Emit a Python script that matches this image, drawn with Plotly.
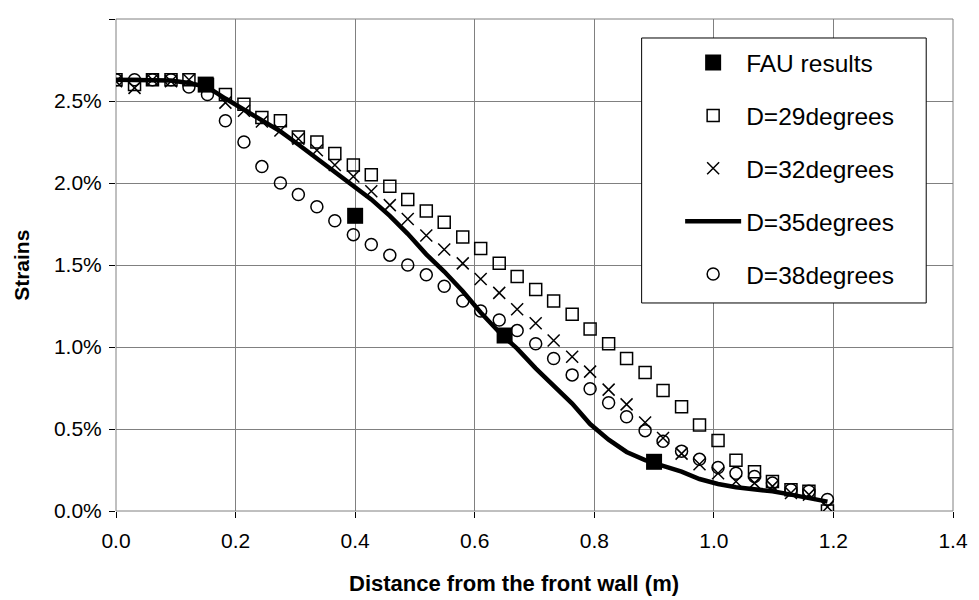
import plotly.graph_objects as go

# ---- data (strain in %) ----
x_sim = [0.000, 0.031, 0.061, 0.092, 0.122, 0.153, 0.183, 0.214, 0.244, 0.275,
         0.305, 0.336, 0.366, 0.397, 0.427, 0.458, 0.488, 0.519, 0.549, 0.580,
         0.610, 0.641, 0.671, 0.702, 0.732, 0.763, 0.793, 0.824, 0.854, 0.885,
         0.915, 0.946, 0.976, 1.007, 1.037, 1.068, 1.098, 1.129, 1.159, 1.190]

d29 = [2.63, 2.60, 2.63, 2.63, 2.63, 2.60, 2.54, 2.48, 2.40, 2.38,
       2.28, 2.25, 2.18, 2.11, 2.05, 1.98, 1.90, 1.83, 1.76, 1.67,
       1.60, 1.51, 1.43, 1.35, 1.28, 1.20, 1.11, 1.02, 0.93, 0.845,
       0.735, 0.635, 0.525, 0.43, 0.31, 0.24, 0.18, 0.13, 0.12, 0.0]

d32 = [2.62, 2.58, 2.63, 2.62, 2.63, 2.60, 2.49, 2.44, 2.375, 2.32,
       2.27, 2.20, 2.11, 2.04, 1.95, 1.865, 1.78, 1.68, 1.595, 1.51,
       1.415, 1.33, 1.23, 1.145, 1.04, 0.94, 0.85, 0.74, 0.65, 0.54,
       0.445, 0.35, 0.285, 0.23, 0.18, 0.17, 0.15, 0.11, 0.10, 0.025]

d35 = [2.63, 2.63, 2.63, 2.625, 2.61, 2.585, 2.515, 2.45, 2.38, 2.315,
       2.235, 2.15, 2.07, 1.99, 1.90, 1.80, 1.69, 1.565, 1.46, 1.34,
       1.21, 1.09, 0.99, 0.87, 0.76, 0.655, 0.53, 0.435, 0.36, 0.31,
       0.275, 0.24, 0.195, 0.165, 0.145, 0.135, 0.12, 0.10, 0.08, 0.057]

d38 = [2.63, 2.63, 2.63, 2.63, 2.585, 2.54, 2.38, 2.25, 2.10, 2.00,
       1.93, 1.855, 1.77, 1.685, 1.625, 1.56, 1.50, 1.44, 1.37, 1.28,
       1.22, 1.165, 1.10, 1.02, 0.93, 0.83, 0.745, 0.66, 0.575, 0.49,
       0.425, 0.365, 0.315, 0.265, 0.23, 0.21, 0.17, 0.13, 0.12, 0.07]

x_fau = [0.15, 0.40, 0.65, 0.90]
y_fau = [2.60, 1.80, 1.07, 0.30]

x_ticks = [0.0, 0.2, 0.4, 0.6, 0.8, 1.0, 1.2, 1.4]
y_ticks = [0.0, 0.5, 1.0, 1.5, 2.0, 2.5, 3.0]
y_ticktext = ["0.0%", "0.5%", "1.0%", "1.5%", "2.0%", "2.5%", "3.0%"]

FONT = "Liberation Sans, Arial, sans-serif"

fig = go.Figure()
fig.add_trace(go.Scatter(x=x_fau, y=y_fau, mode="markers", name="FAU results",
                         legendgroup="a", zorder=3,
                         marker=dict(symbol="square", size=16, color="black")))
fig.add_trace(go.Scatter(x=x_sim, y=d29, mode="markers", name="D=29degrees",
                         legendgroup="b",
                         marker=dict(symbol="square-open", size=12, color="black",
                                     line=dict(width=1.5, color="black"))))
fig.add_trace(go.Scatter(x=x_sim, y=d32, mode="markers", name="D=32degrees",
                         legendgroup="c",
                         marker=dict(symbol="x-thin-open", size=12, color="black",
                                     line=dict(width=1.5, color="black"))))
fig.add_trace(go.Scatter(x=x_sim, y=d35, mode="lines", name="D=35degrees",
                         legendgroup="d", zorder=1,
                         line=dict(color="black", width=4.5)))
fig.add_trace(go.Scatter(x=x_sim, y=d38, mode="markers", name="D=38degrees",
                         legendgroup="e",
                         marker=dict(symbol="circle-open", size=12, color="black",
                                     line=dict(width=1.5, color="black"))))

fig.update_layout(
    width=971, height=592,
    margin=dict(l=108, r=19, t=11, b=89),
    paper_bgcolor="white", plot_bgcolor="white",
    font=dict(family=FONT, color="black", size=21),
    showlegend=True,
    legend=dict(x=0.674, y=0.957, xanchor="left", yanchor="top",
                bgcolor="rgba(0,0,0,0)", borderwidth=0,
                font=dict(family=FONT, size=24.5, color="black"),
                traceorder="grouped", tracegroupgap=18, itemwidth=56),
    xaxis=dict(range=[0, 1.4], tickvals=x_ticks, tickformat=".1f",
               showgrid=True, gridcolor="#808080", gridwidth=1,
               showline=True, linecolor="black", linewidth=1,
               ticks="outside", ticklen=6, tickcolor="black",
               zeroline=False, tickfont=dict(size=21), ticklabelstandoff=5),
    yaxis=dict(range=[0, 3.0], tickvals=y_ticks, ticktext=y_ticktext,
               showgrid=True, gridcolor="#808080", gridwidth=1,
               showline=True, linecolor="black", linewidth=1,
               ticks="outside", ticklen=6, tickcolor="black",
               zeroline=False, tickfont=dict(size=21), ticklabelstandoff=3),
    shapes=[
        dict(type="rect", xref="paper", yref="paper", x0=0, x1=1, y0=0, y1=1,
             line=dict(color="#808080", width=1), layer="below"),
        dict(type="rect", xref="paper", yref="paper",
             x0=0.628, x1=0.968, y0=0.4228, y1=0.9614,
             fillcolor="white", line=dict(color="black", width=1), layer="above"),
    ],
    annotations=[
        dict(text="<b>Distance from the front wall (m)</b>", xref="paper", yref="paper",
             x=0.475, y=-0.148, xanchor="center", yanchor="middle", showarrow=False,
             font=dict(family=FONT, size=22, color="black")),
        dict(text="<b>Strains</b>", xref="paper", yref="paper", textangle=-90,
             x=-0.1137, y=0.5, xanchor="center", yanchor="middle", showarrow=False,
             font=dict(family=FONT, size=21, color="black")),
    ],
)

fig.write_html("out.html")
